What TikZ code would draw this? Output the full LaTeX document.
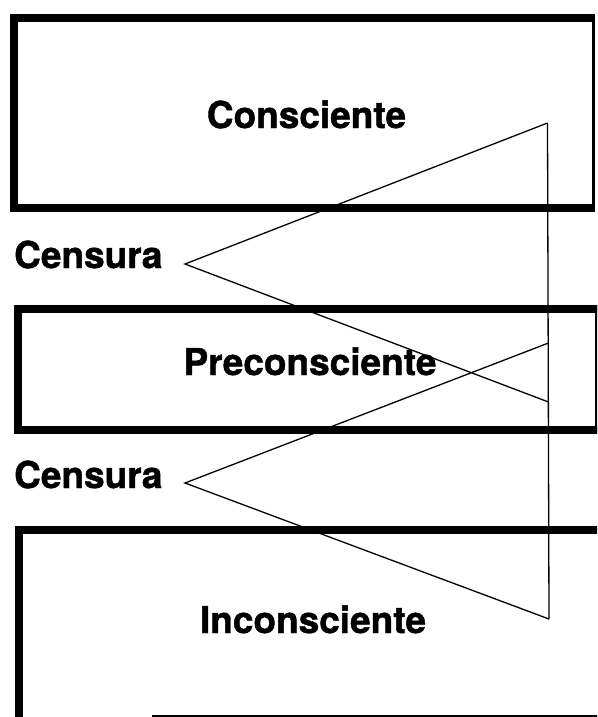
\documentclass[tikz,border=0pt]{standalone}
\usepackage{fontspec}
\setmainfont{TeX Gyre Heros}
\newfontfamily\layerfont[BoldFeatures={FakeBold=1.2}]{TeX Gyre Heros}

\tikzset{
	layer/.style={line width=8pt, line join=miter},
	layeredge/.style={line width=3pt},
	censor/.style={line width=1.3pt, line join=miter},
	layername/.style={font=\layerfont\bfseries\fontsize{37}{40}\selectfont, inner sep=0pt, anchor=base}
}

\begin{document}
\begin{tikzpicture}[x=1pt, y=-1pt]

	\clip (0,0) rectangle (597,717);
	\useasboundingbox (0,0) rectangle (597,717);

	% the three layers
	\draw[layer] (595,18.5) -- (14,18.5) -- (14,208) -- (595,208);
	\draw[layeredge] (593.5,15) -- (593.5,212);

	\draw[layer] (598,309) -- (17.5,309) -- (17.5,429.5) -- (598,429.5);
	\draw[layeredge] (596.5,305) -- (596.5,433);

	\draw[layer] (600,529.5) -- (19,529.5) -- (19,725);
	\draw[layeredge] (152,716) -- (600,716);

	\node[layername] (consc) at (306.5,128) {Consciente};
	\node[layername] (precons) at (310,375) {Preconsciente};
	\node[layername] (incons) at (313,633) {Inconsciente};

	\node[layername, anchor=base west] (cens1) at (14,268) {Censura};
	\node[layername, anchor=base west] (cens2) at (14,488) {Censura};

	% censorship wedges
	\coordinate (top1) at (547.5,123);
	\coordinate (tip1) at (185,264);
	\coordinate (low1) at (548.5,402);
	\coordinate (top2) at (548.5,343);
	\coordinate (tip2) at (185,483);
	\coordinate (low2) at (549,619);

	\draw[censor] (top1) -- (low2);
	\draw[censor] (low1) -- (tip1) -- (top1);
	\draw[censor] (low2) -- (tip2) -- (top2);

\end{tikzpicture}
\end{document}
